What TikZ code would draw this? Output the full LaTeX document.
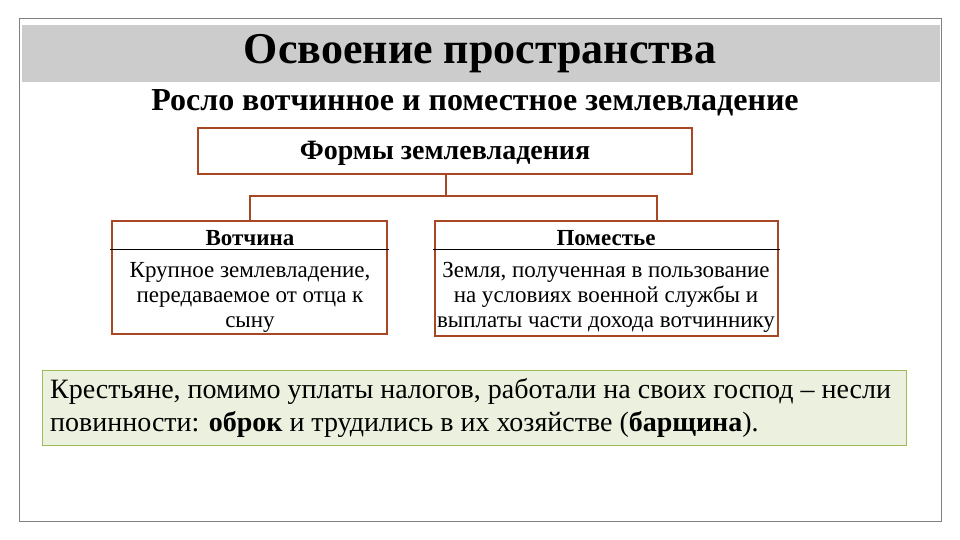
\documentclass[tikz,border=0pt]{standalone}
\usepackage{fontspec}
\setmainfont{Liberation Serif}
\begin{document}
\begin{tikzpicture}[x=1pt,y=-1pt,
  brbox/.style={draw=brown!70!red!80!black, line width=2pt},
  conn/.style={draw=brown!70!red!80!black, line width=2pt},
  txt/.style={inner sep=0pt, font=\fontsize{23}{25}\selectfont, align=center}]
\useasboundingbox (0,0) rectangle (960,540);
\fill[white] (0,0) rectangle (960,540);
\draw[gray, line width=0.8pt] (19,18) rectangle (941,521);
\fill[black!20] (22,25) rectangle (940,82);
\node[inner sep=0pt, font=\fontsize{44}{48}\bfseries] (title) at (480,54) {Освоение пространства};
\node[inner sep=0pt, font=\fontsize{32}{36}\bfseries] (sub) at (475,103) {Росло вотчинное и поместное землевладение};
\draw[brbox] (198,128) rectangle (692,174);
\node[txt, font=\fontsize{28}{30}\bfseries\selectfont] (forms) at (445,153) {Формы землевладения};
\coordinate (f) at (446,174);
\coordinate (l) at (250,221);
\coordinate (r) at (657,221);
\draw[conn] (f) -- (446,196) -| (l);
\draw[conn] (446,196) -| (r);
\draw[brbox] (112,221) rectangle (387,334);
\draw[black, line width=1pt] (110,249) -- (389,249);
\node[txt, font=\fontsize{23}{25}\bfseries\selectfont] (v) at (250,238) {Вотчина};
\node[txt] (vt) at (250,297) {Крупное землевладение,\\передаваемое от отца к\\сыну};
\draw[brbox] (435,221) rectangle (778,336);
\draw[black, line width=1pt] (433,249) -- (780,249);
\node[txt, font=\fontsize{23}{25}\bfseries\selectfont] (p) at (606,238) {Поместье};
\node[txt] (pt) at (606,297) {Земля, полученная в пользование\\на условиях военной службы и\\выплаты части дохода вотчиннику};
\draw[draw={rgb,255:red,155;green,187;blue,89}, fill={rgb,255:red,235;green,241;blue,222}, line width=1pt] (42,370) rectangle (906,445);
\node[inner sep=0pt, anchor=north west, align=left, font=\fontsize{28}{33}\selectfont] (g) at (50,378) {Крестьяне, помимо уплаты налогов, работали на своих господ – несли\\повинности: \textbf{оброк} и трудились в их хозяйстве (\textbf{барщина}).};
\end{tikzpicture}
\end{document}
